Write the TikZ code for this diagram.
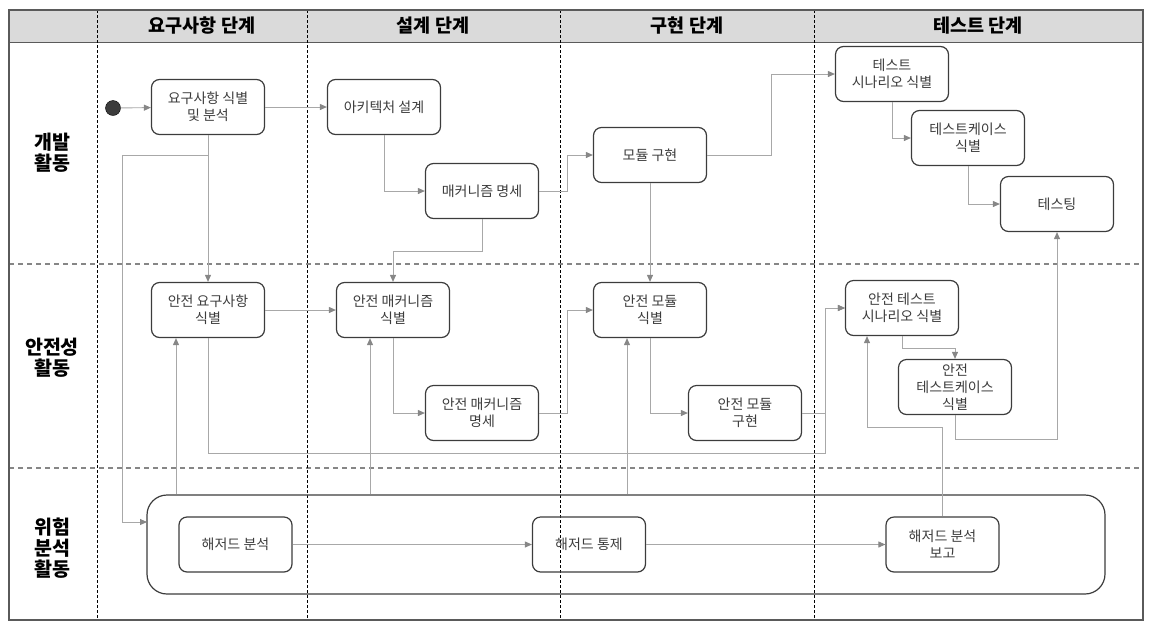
\documentclass[tikz,border=0pt]{standalone}
\usepackage{fontspec}
\setmainfont{Noto Sans CJK KR}
\usetikzlibrary{arrows.meta}
\definecolor{ink}{HTML}{3C3C3C}
\definecolor{frame}{HTML}{5A5A5A}
\definecolor{wire}{HTML}{A8A8A8}
\definecolor{tip}{HTML}{878787}
\definecolor{band}{HTML}{DADADA}

\tikzset{
  act/.style={draw=ink,line width=1.2pt,rounded corners=8pt,minimum width=113pt,
    minimum height=55pt,inner sep=1pt,align=center,text=ink,
    font=\fontsize{14}{17}\selectfont},
  conn/.style={draw=wire,line width=.9pt,-{Triangle[length=7pt,width=6pt,color=tip]}},
  phase/.style={font=\bfseries\fontsize{18.5}{22}\selectfont},
  track/.style={font=\bfseries\fontsize{19.5}{21}\selectfont,align=center},
}

\begin{document}
\begin{tikzpicture}[x=1pt,y=-1pt]
\useasboundingbox (0,0) rectangle (1154,630);
% header band and lanes
\fill[band] (9,10) rectangle (1143,42);
\draw[frame,line width=.8pt] (9,42) -- (1143,42);
\draw[wire!80!black,line width=1.2pt,dash pattern=on 5pt off 4pt] (9,264) -- (1143,264);
\draw[wire!80!black,line width=1.2pt,dash pattern=on 5pt off 4pt] (9,468) -- (1143,468);
\foreach \lx in {97,307,560,814}
  \draw[black,line width=.8pt,densely dashed] (\lx,10) -- (\lx,620);
\draw[frame,line width=1.6pt] (9,10) rectangle (1143,620);

\node[phase] (ph1) at (202,26) {요구사항 단계};
\node[phase] (ph2) at (433,26) {설계 단계};
\node[phase] (ph3) at (687,26) {구현 단계};
\node[phase] (ph4) at (978,26) {테스트 단계};

\node[track] (tr1) at (52,153) {개발\\활동};
\node[track] (tr2) at (52,358) {안전성\\활동};
\node[track] (tr3) at (52,548) {위험\\분석\\활동};

% development activities
\node[circle,draw=black,fill=ink,minimum size=15pt,inner sep=0pt] (start) at (113,108) {};
\node[act] (req) at (208,107) {요구사항 식별\\및 분석};
\node[act] (arch) at (384,107) {아키텍처 설계};
\node[act] (mech) at (482,191) {매커니즘 명세};
\node[act] (modimpl) at (650,155) {모듈 구현};
\node[act] (tscen) at (892,74) {테스트\\시나리오 식별};
\node[act] (tcase) at (968,138) {테스트케이스\\식별};
\node[act] (testing) at (1057,204) {테스팅};

% safety activities
\node[act] (sreq) at (208,310) {안전 요구사항\\식별};
\node[act] (smech) at (393,310) {안전 매커니즘\\식별};
\node[act] (smechspec) at (482,413) {안전 매커니즘\\명세};
\node[act] (smodid) at (650,310) {안전 모듈\\식별};
\node[act] (smodimpl) at (745,413) {안전 모듈\\구현};
\node[act] (stscen) at (902,308) {안전 테스트\\시나리오 식별};
\node[act] (stcase) at (955,387) {안전\\테스트케이스\\식별};

% hazard analysis
\node[draw=ink,line width=1.2pt,rounded corners=20pt,minimum width=958pt,minimum height=99pt] (hzbox) at (626,544.5) {};
\node[act] (haz1) at (235.5,544.5) {해저드 분석};
\node[act] (haz2) at (589,544.5) {해저드 통제};
\node[act] (haz3) at (942.5,544.5) {해저드 분석\\보고};

\coordinate (hzin) at (147,522);
\coordinate (mrg) at (825,453);
\coordinate (tap1) at (176,0);
\coordinate (tap2) at (370,0);
\coordinate (tap3) at (627,0);
\coordinate (rep) at (867,0);

% connectors
\draw[conn] (start) -- (req);
\draw[conn] (req.east) -- (arch.west);
\draw[conn] (arch.south) |- (mech.west);
\draw[conn] (mech.east) -- ++(28,0) |- (modimpl.west);
\draw[conn] (modimpl.east) -- ++(64,0) |- (tscen.west);
\draw[conn] (tscen.south) |- (tcase.west);
\draw[conn] (tcase.south) |- (testing.west);
\draw[conn] (req.south) -- (sreq.north);
\draw[conn] (req.south) ++(0,20) -- ++(-86,0) |- (hzin);
\draw[conn] (mech.south) -- ++(0,32) -| (smech.north);
\draw[conn] (modimpl.south) -- (smodid.north);

\draw[conn] (sreq.east) -- (smech.west);
\draw[conn] (smech.south) |- (smechspec.west);
\draw[conn] (smechspec.east) -- ++(28,0) |- (smodid.west);
\draw[conn] (smodid.south) |- (smodimpl.west);
\draw[conn] (smodimpl.east) -- (mrg |- smodimpl.east) |- (stscen.west);
\draw[conn] (sreq.south) |- (mrg) |- (stscen.west);
\draw[conn] (stscen.south) -- ++(0,12) -| (stcase.north);
\draw[conn] (stcase.south) -- ++(0,24) -| (testing.south);

\draw[conn] (hzbox.north -| tap1) -- (sreq.south -| tap1);
\draw[conn] (hzbox.north -| tap2) -- (smech.south -| tap2);
\draw[conn] (hzbox.north -| tap3) -- (smodid.south -| tap3);
\draw[conn] (haz3.north) -- ++(0,-89) -| (stscen.south -| rep);
\draw[conn] (haz1.east) -- (haz2.west);
\draw[conn] (haz2.east) -- (haz3.west);
\end{tikzpicture}
\end{document}
